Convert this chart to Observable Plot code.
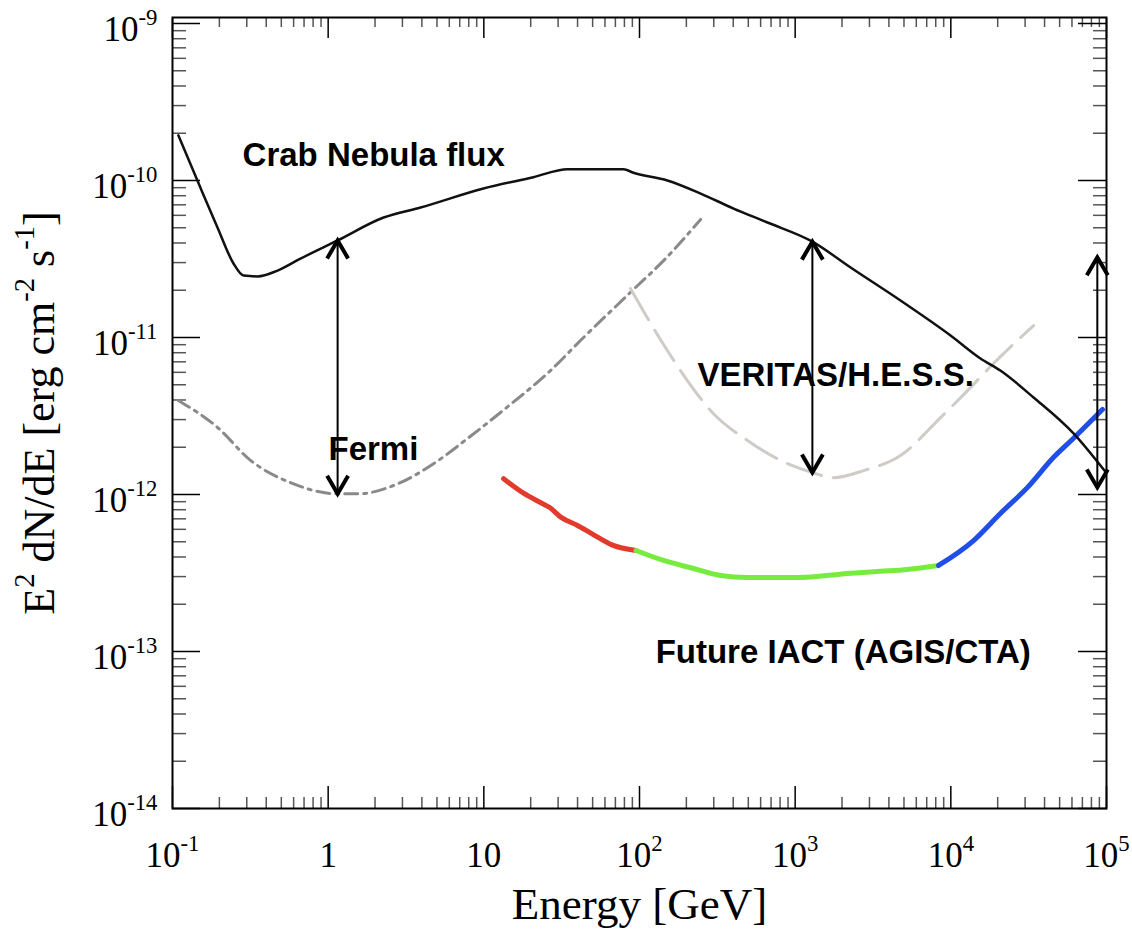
<!DOCTYPE html>
<html>
<head>
<meta charset="utf-8">
<script src="https://cdn.jsdelivr.net/npm/d3@7"></script>
<script src="https://cdn.jsdelivr.net/npm/@observablehq/plot@0.6"></script>
<style>
  html, body { margin: 0; padding: 0; background: #fff; }
  #chart svg { display: block; }
</style>
</head>
<body>
<div id="chart"></div>
<script>
// Crab Nebula spectrum (E^2 dN/dE) and differential sensitivities of gamma-ray instruments

// Crab Nebula flux
const crabE = [0.109, 0.151, 0.1945, 0.2465, 0.286, 0.352, 0.473, 0.664, 1.15, 2.27, 3.92, 9.95, 20.8, 34.5, 56.1, 78.9, 91.5, 151, 247, 402, 664, 1290, 2270, 4750, 9960, 15500, 20800, 34000, 61400, 97000];
const crabF = [1.94e-10, 9.01e-11, 5.02e-11, 2.96e-11, 2.48e-11, 2.45e-11, 2.67e-11, 3.18e-11, 4.15e-11, 5.81e-11, 6.73e-11, 8.89e-11, 1.05e-10, 1.18e-10, 1.18e-10, 1.18e-10, 1.12e-10, 1.0e-10, 8.26e-11, 6.63e-11, 5.40e-11, 4.08e-11, 2.79e-11, 1.72e-11, 1.03e-11, 7.35e-12, 6.16e-12, 4.15e-12, 2.45e-12, 1.42e-12];

// Fermi sensitivity
const fermiE = [0.109, 0.195, 0.317, 0.573, 1.15, 1.54, 2.91, 4.75, 7.85, 12.8, 26.8, 43.7, 87.5, 147, 247];
const fermiF = [3.97e-12, 2.67e-12, 1.65e-12, 1.19e-12, 1.01e-12, 1.01e-12, 1.19e-12, 1.57e-12, 2.27e-12, 3.33e-12, 6.16e-12, 1.0e-11, 1.94e-11, 3.18e-11, 5.65e-11];

// VERITAS / H.E.S.S. sensitivity
const iactE = [87.5, 112, 151, 203, 298, 494, 805, 1290, 1760, 2750, 4750, 8590, 12800, 18800, 34000];
const iactF = [2.05e-11, 1.34e-11, 8.26e-12, 5.32e-12, 3.28e-12, 2.21e-12, 1.65e-12, 1.38e-12, 1.28e-12, 1.42e-12, 1.77e-12, 3.09e-12, 4.59e-12, 6.83e-12, 1.19e-11];

// Future IACT (AGIS/CTA) sensitivity, in three energy ranges
const futureLowE = [13.4, 18.0, 23.1, 26.5, 31.4, 40.0, 50.5, 66.5, 95.0];
const futureLowF = [1.26e-12, 1.02e-12, 8.89e-13, 8.26e-13, 7.15e-13, 6.35e-13, 5.55e-13, 4.78e-13, 4.40e-13];
const futureMidE = [95.0, 143, 222, 331, 494, 1035, 2170, 3530, 5270, 8330];
const futureMidF = [4.40e-13, 3.80e-13, 3.38e-13, 3.05e-13, 2.96e-13, 2.96e-13, 3.14e-13, 3.24e-13, 3.33e-13, 3.53e-13];
const futureHighE = [8330, 14000, 20800, 31100, 45600, 61400, 94200];
const futureHighF = [3.53e-13, 5.09e-13, 7.57e-13, 1.11e-12, 1.72e-12, 2.28e-12, 3.48e-12];

// Double-headed arrows marking the sensitivity gap
const arrowE = [1.15, 1290, 87300];
const arrowTop = [4.15e-11, 4.08e-11, 3.24e-11];
const arrowBottom = [1.01e-12, 1.38e-12, 1.11e-12];

// Annotations
const labelText = ["Crab Nebula flux", "Fermi", "VERITAS/H.E.S.S.", "Future IACT (AGIS/CTA)"];
const labelE = [0.282, 1.005, 236, 127];
const labelF = [1.23e-10, 1.65e-12, 4.94e-12, 8.5e-14];

// Axes
const xMajor = [0.1, 1, 10, 100, 1000, 1e4, 1e5];
const xTickLabels = ["10^{-1}", "1", "10", "10^{2}", "10^{3}", "10^{4}", "10^{5}"];
const yMajor = [1e-14, 1e-13, 1e-12, 1e-11, 1e-10, 1e-9];
const yTickLabels = ["10^{-14}", "10^{-13}", "10^{-12}", "10^{-11}", "10^{-10}", "10^{-9}"];
const xTitle = "Energy [GeV]";
const yTitle = "E^{2} dN/dE [erg cm^{-2} s^{-1}]";

// 2..9 subdivisions for each decade in [10^lo, 10^hi)
function minorTicks(lo, hi) {
  const out = [];
  for (let d = lo; d < hi; d++) for (let m = 2; m <= 9; m++) out.push(m * Math.pow(10, d));
  return out;
}
const xMinor = minorTicks(-1, 5);
const yMinor = minorTicks(-14, -9);

// Open chevron heads, apex at the point
const chevronUp = {draw(ctx) { ctx.moveTo(-10.5, 18); ctx.lineTo(0, 0); ctx.lineTo(10.5, 18); }};
const chevronDown = {draw(ctx) { ctx.moveTo(-10.5, -18); ctx.lineTo(0, 0); ctx.lineTo(10.5, -18); }};

const blank = () => "";
const tickStyle = {label: null, tickFormat: blank, stroke: "#000", strokeWidth: 1.5};
const minorStyle = {label: null, tickFormat: blank, stroke: "#555", strokeWidth: 1.5};
const boldLabel = {fontFamily: "'Liberation Sans', Arial, sans-serif", fontWeight: "bold", fontSize: 33, fill: "#000"};

const plot = Plot.plot({
  width: 1132,
  height: 934,
  marginLeft: 172,
  marginRight: 26,
  marginTop: 17,
  marginBottom: 126,
  style: {fontFamily: "'Liberation Serif', 'Times New Roman', serif", background: "#fff", color: "#000"},
  x: {type: "log", domain: [0.1, 1e5]},
  y: {type: "log", domain: [1e-14, 1.092e-9]},
  marks: [
    // inward ticks on all four sides
    Plot.axisX({...minorStyle, ticks: xMinor, anchor: "bottom", tickSize: -11}),
    Plot.axisX({...tickStyle, ticks: xMajor, anchor: "bottom", tickSize: -22}),
    Plot.axisX({...minorStyle, ticks: xMinor, anchor: "top", tickSize: -9}),
    Plot.axisX({...tickStyle, ticks: xMajor, anchor: "top", tickSize: -20}),
    Plot.axisY({...minorStyle, ticks: yMinor, anchor: "left", tickSize: -14}),
    Plot.axisY({...tickStyle, ticks: yMajor, anchor: "left", tickSize: -28}),
    Plot.axisY({...minorStyle, ticks: yMinor, anchor: "right", tickSize: -14}),
    Plot.axisY({...tickStyle, ticks: yMajor, anchor: "right", tickSize: -29}),
    // tick labels
    Plot.axisX({ticks: xMajor, anchor: "bottom", tickSize: 0, tickPadding: 34, fontSize: 35, label: null,
      tickFormat: (d) => xTickLabels[xMajor.indexOf(d)]}),
    Plot.axisY({ticks: yMajor, anchor: "left", tickSize: 0, tickPadding: 15, fontSize: 35, label: null, dy: 6,
      tickFormat: (d) => yTickLabels[yMajor.indexOf(d)]}),
    // axis titles
    Plot.text([xTitle], {frameAnchor: "bottom", lineAnchor: "bottom", dy: 110, fontSize: 45, text: (d) => d}),
    Plot.text([yTitle], {frameAnchor: "left", textAnchor: "middle", lineAnchor: "middle", rotate: -90, dx: -133, fontSize: 44, text: (d) => d}),

    // sensitivity curves
    Plot.line(fermiE, {x: fermiE, y: fermiF, curve: "monotone-x", stroke: "#8a8a8a", strokeWidth: 3, strokeDasharray: "13,6,3,6"}),
    Plot.line(iactE, {x: iactE, y: iactF, curve: "monotone-x", stroke: "#cfcbc6", strokeWidth: 3, strokeDasharray: "36,12"}),
    Plot.line(futureLowE, {x: futureLowE, y: futureLowF, curve: "monotone-x", stroke: "#e23a2c", strokeWidth: 5}),
    Plot.line(futureMidE, {x: futureMidE, y: futureMidF, curve: "monotone-x", stroke: "#78ec3e", strokeWidth: 5}),
    Plot.line(futureHighE, {x: futureHighE, y: futureHighF, curve: "monotone-x", stroke: "#1f4ee8", strokeWidth: 5}),
    // Crab Nebula spectrum
    Plot.line(crabE, {x: crabE, y: crabF, curve: "monotone-x", stroke: "#111", strokeWidth: 2.5}),

    // double-headed arrows
    Plot.ruleX(arrowE, {x: arrowE, y1: arrowTop, y2: arrowBottom, stroke: "#000", strokeWidth: 2}),
    Plot.dot(arrowE, {x: arrowE, y: arrowTop, symbol: chevronUp, fill: "none", stroke: "#000", strokeWidth: 4}),
    Plot.dot(arrowE, {x: arrowE, y: arrowBottom, symbol: chevronDown, fill: "none", stroke: "#000", strokeWidth: 4}),

    // labels
    Plot.text(labelText, {x: labelE, y: labelF, text: (d) => d, textAnchor: "start", lineAnchor: "bottom", ...boldLabel}),

    Plot.frame({stroke: "#000", strokeWidth: 2})
  ]
});

// Render "^{...}" as raised, smaller text
function applySuperscripts(svg) {
  svg.querySelectorAll("text").forEach((t) => {
    const s = t.textContent;
    if (!s.includes("^{")) return;
    const parts = s.split(/\^\{([^}]*)\}/);
    t.textContent = "";
    let raised = false;
    parts.forEach((p, i) => {
      if (p === "") return;
      const span = document.createElementNS("http://www.w3.org/2000/svg", "tspan");
      span.textContent = p;
      if (i % 2 === 1) {
        span.setAttribute("font-size", "65%");
        span.setAttribute("dy", raised ? "0" : "-0.7em");
        raised = true;
      } else if (raised) {
        span.setAttribute("dy", "0.455em");
        raised = false;
      }
      t.appendChild(span);
    });
  });
}
applySuperscripts(plot);

document.getElementById("chart").appendChild(plot);
</script>
</body>
</html>
